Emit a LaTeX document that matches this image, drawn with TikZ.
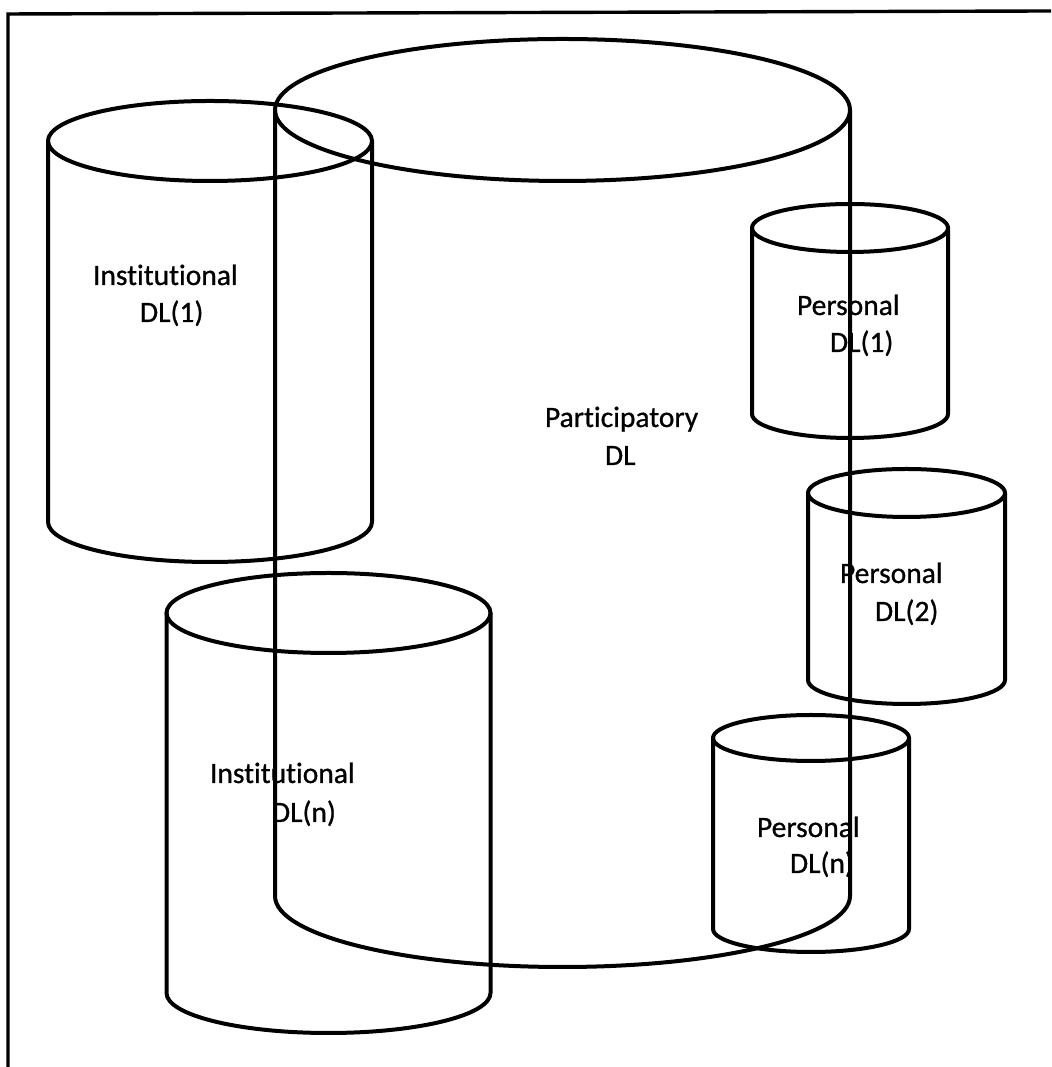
\documentclass[tikz,border=0pt]{standalone}
\usepackage{fontspec}
\setmainfont{Carlito}[FakeBold=0.8,Ligatures=CommonOff]
\begin{document}
\begin{tikzpicture}[x=1pt,y=1pt,
  edge/.style={line width=4pt,line join=round,line cap=round},
  frameline/.style={line width=3.4pt},
  lbl/.style={anchor=base west,inner sep=0pt,outer sep=0pt,font=\fontsize{29.5}{35}\selectfont}]
\useasboundingbox (0,0) rectangle (1051,1067);
\fill[white] (0,0) rectangle (1051,1067);
% can: #1 cx, #2 rx, #3 top cy, #4 bottom cy, #5 ry
\newcommand\mycan[5]{%
  \draw[edge] (#1,#3) ellipse [x radius=#2, y radius=#5];
  \draw[edge] (#1-#2,#3) -- (#1-#2,#4)
     arc [start angle=180, end angle=360, x radius=#2, y radius=#5]
     -- (#1+#2,#3);
}
% frame
\coordinate (fbl) at (8,0);
\coordinate (ftl) at (8,1053);
\coordinate (ftr) at (1051,1056);
\draw[frameline] (fbl) -- (ftl) -- (ftr);
% labels
\node[lbl] (parta) at (545,640) {Participatory};
\node[lbl] (partb) at (605,602) {DL};
\node[lbl] (inst1a) at (93,782) {Institutional};
\node[lbl] (inst1b) at (140,745) {DL(1)};
\node[lbl] (instna) at (210,284) {Institutional};
\node[lbl] (instnb) at (272,245) {DL(n)};
\node[lbl] (pers1a) at (797,752) {Personal};
\node[lbl] (pers1b) at (830,715) {DL(1)};
\node[lbl] (pers2a) at (840,484) {Personal};
\node[lbl] (pers2b) at (875,446) {DL(2)};
\node[lbl] (persna) at (757,230) {Personal};
\node[lbl] (persnb) at (790,194) {DL(n)};
% cylinders
\mycan{210}{162}{926}{545}{40}
\mycan{328.5}{162}{454}{74}{40}
\mycan{562.5}{287.5}{957}{171}{71}
\mycan{850}{98}{839}{653}{24}
\mycan{906.5}{98.5}{574}{387}{24}
\mycan{811}{98}{329}{138}{23}
\end{tikzpicture}
\end{document}
